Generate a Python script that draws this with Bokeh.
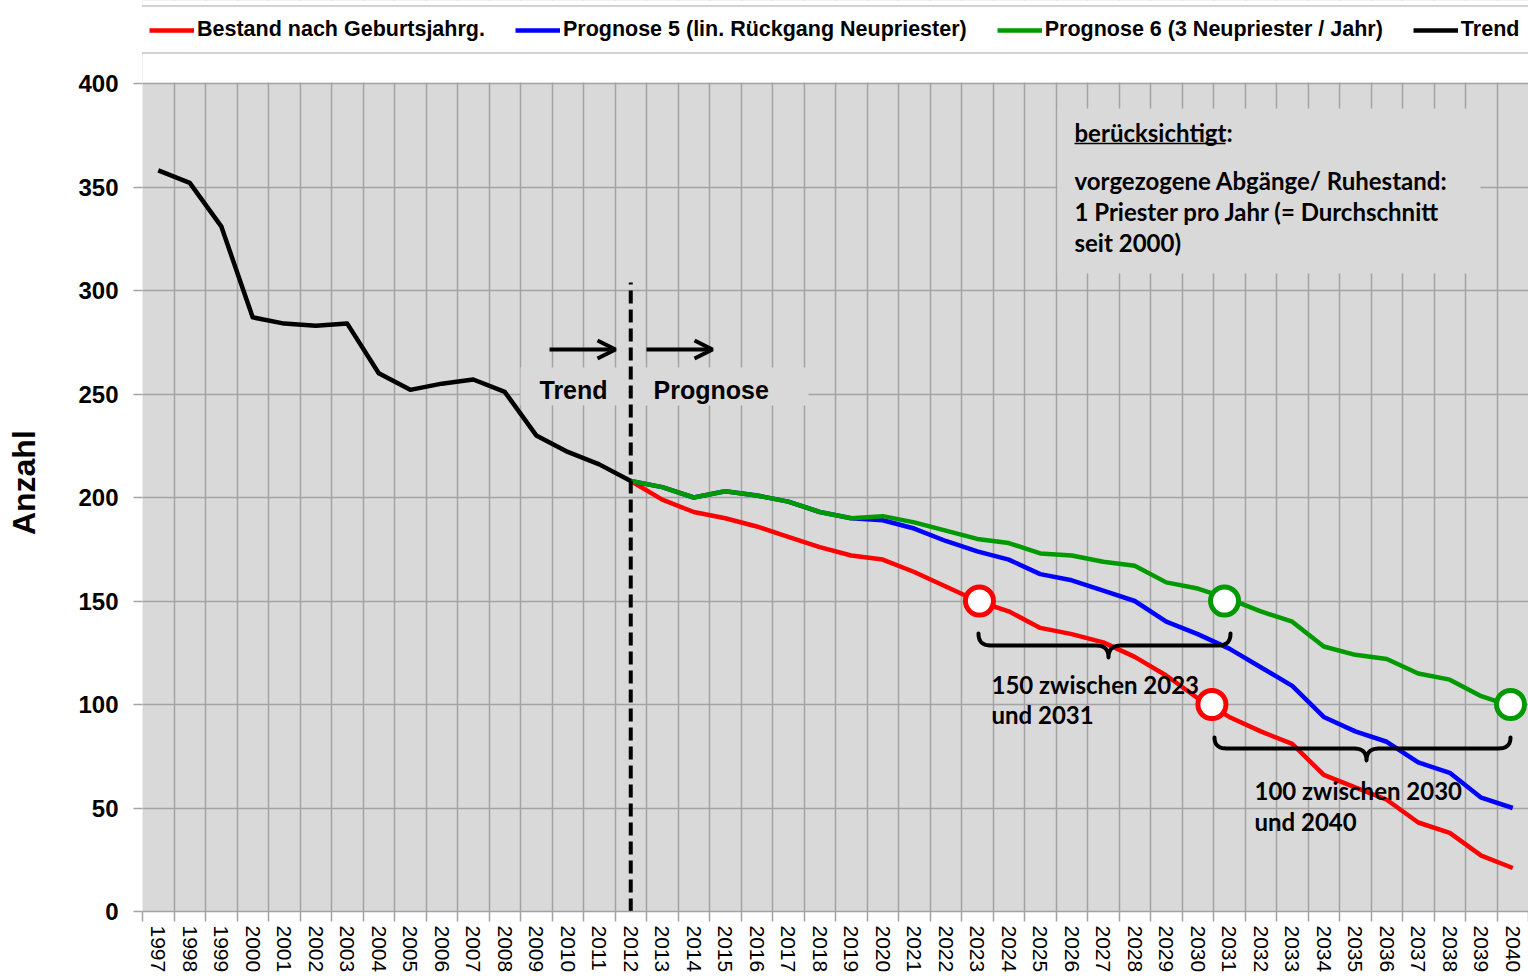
import numpy as np
from bokeh.plotting import figure
from bokeh.models import FixedTicker, Legend, LegendItem, Label, Arrow, OpenHead
from bokeh.embed import file_html
from bokeh.resources import INLINE

# ---------------- data ----------------
years_all = list(range(1997, 2041))
trend_years = list(range(1997, 2013))
trend_values = [358, 352, 331, 287, 284, 283, 284, 260, 252, 255, 257, 251, 230, 222, 216, 208]

prog_years = list(range(2012, 2041))
bestand_values = [208, 199, 193, 190, 186, 181, 176, 172, 170, 164, 157, 150, 145, 137, 134,
                  130, 123, 114, 103, 94, 87, 81, 66, 60, 54, 43, 38, 27, 21]
prognose5_values = [208, 205, 200, 203, 201, 198, 193, 190, 189, 185, 179, 174, 170, 163, 160,
                    155, 150, 140, 134, 127, 118, 109, 94, 87, 82, 72, 67, 55, 50]
prognose6_values = [208, 205, 200, 203, 201, 198, 193, 190, 191, 188, 184, 180, 178, 173, 172,
                    169, 167, 159, 156, 151, 145, 140, 128, 124, 122, 115, 112, 104, 99]

y_ticks = [0, 50, 100, 150, 200, 250, 300, 350, 400]
legend_labels = ["Bestand nach Geburtsjahrg.", "Prognose 5 (lin. Rückgang Neupriester)",
                 "Prognose 6 (3 Neupriester / Jahr)", "Trend"]

# marked crossings (year position, value)
mark_x = [2023.07, 2030.85, 2030.45, 2039.93]
mark_y = [150, 150, 100, 100]
mark_colors = ["#ff0000", "#009900", "#ff0000", "#009900"]

# ---------------- layout helpers ----------------
W, H = 1528, 975
FRAME_LEFT = 142          # page px of the left plot edge
PLOT_TOP, PLOT_BOTTOM = 83, 911   # page px of value 400 and value 0
FW = 1386
X0, X1 = 1996.5, 2040.5
Y_MAX = 400
PX_PER_UNIT = (PLOT_BOTTOM - PLOT_TOP) / Y_MAX


def px_x(px):
    return X0 + (px - FRAME_LEFT) / FW * (X1 - X0)


def px_y(py):
    return (PLOT_BOTTOM - py) / PX_PER_UNIT


Y_TOP = px_y(0)   # frame reaches the top of the figure (legend lives inside it)

GRID = "#a3a3a3"
BG = "#d9d9d9"
RED, BLUE, GREEN = "#ff0000", "#0000ff", "#009900"

p = figure(width=W, height=H, x_range=(X0, X1), y_range=(0, Y_TOP),
           output_backend="svg", toolbar_location=None,
           min_border_left=FRAME_LEFT, min_border_top=0, min_border_right=0,
           min_border_bottom=0,
           background_fill_color=BG, border_fill_color="white", outline_line_color=None)

boundaries = [y - 0.5 for y in years_all] + [years_all[-1] + 0.5]

# x axis
p.xaxis.ticker = FixedTicker(ticks=years_all, minor_ticks=boundaries)
p.xaxis.major_tick_out = 0
p.xaxis.major_tick_in = 0
p.xaxis.major_tick_line_color = None
p.xaxis.minor_tick_out = 10
p.xaxis.minor_tick_in = 0
p.xaxis.minor_tick_line_color = GRID
p.xaxis.minor_tick_line_width = 1.5
p.xaxis.axis_line_color = GRID
p.xaxis.axis_line_width = 1.5
p.xaxis.major_label_orientation = "vertical"
p.xaxis.major_label_text_font = "Liberation Sans"
p.xaxis.major_label_text_font_size = "21px"
p.xaxis.major_label_text_color = "black"
p.xaxis.major_label_standoff = 4

# y axis (only over the 0..400 plot area)
p.yaxis.ticker = FixedTicker(ticks=y_ticks)
p.yaxis.bounds = (0, 400)
p.yaxis.major_tick_out = 9
p.yaxis.major_tick_in = 0
p.yaxis.minor_tick_line_color = None
p.yaxis.major_tick_line_color = GRID
p.yaxis.major_tick_line_width = 1.5
p.yaxis.axis_line_color = None
p.yaxis.major_label_text_font = "Liberation Sans"
p.yaxis.major_label_text_font_style = "bold"
p.yaxis.major_label_text_font_size = "24px"
p.yaxis.major_label_text_color = "black"
p.yaxis.major_label_standoff = 15
# trailing no-break spaces move the centred word down to the middle of the 0..400 area
p.yaxis.axis_label = "Anzahl" + "\u00a0" * 6
p.yaxis.axis_label_text_font = "Liberation Sans"
p.yaxis.axis_label_text_font_style = "bold"
p.yaxis.axis_label_text_font_size = "32px"
p.yaxis.axis_label_text_color = "black"
p.yaxis.axis_label_standoff = 33

# grids
p.xgrid.ticker = FixedTicker(ticks=boundaries)
p.ygrid.ticker = FixedTicker(ticks=y_ticks)
for g in (p.xgrid, p.ygrid):
    g.grid_line_color = GRID
    g.grid_line_width = 1.5

# white area above the plot (legend zone)
p.quad(left=[X0], right=[X1], bottom=[Y_MAX + 0.45], top=[Y_TOP], fill_color="white",
       line_color=None)

# background boxes behind annotation texts (hide grid)
p.quad(left=[px_x(1057)], right=[px_x(1480)], top=[px_y(108)], bottom=[px_y(273)],
       fill_color=BG, line_color=None)
p.quad(left=[px_x(520)], right=[px_x(808)], top=[px_y(367)], bottom=[px_y(405)],
       fill_color=BG, line_color=None)

# series
r_red = p.line(prog_years, bestand_values, line_color=RED, line_width=4.5, line_join="round")
r_blue = p.line(prog_years, prognose5_values, line_color=BLUE, line_width=4.5, line_join="round")
r_green = p.line(prog_years, prognose6_values, line_color=GREEN, line_width=4.5, line_join="round")
r_black = p.line(trend_years, trend_values, line_color="black", line_width=4.5, line_join="round")

# dashed separator at 2012
p.segment(x0=[2012], y0=[0], x1=[2012], y1=[px_y(282)], line_color="black",
          line_width=4, line_dash="13 6")

# arrows
for xs, xe in ((549, 615), (646, 712)):
    p.add_layout(Arrow(x_start=px_x(xs), y_start=px_y(349), x_end=px_x(xe), y_end=px_y(349),
                       line_width=4, line_color="black",
                       end=OpenHead(size=18, line_width=4, line_color="black")))


def bez(p0, p1, p2, n=10):
    t = np.linspace(0, 1, n)
    xs = (1 - t) ** 2 * p0[0] + 2 * (1 - t) * t * p1[0] + t ** 2 * p2[0]
    ys = (1 - t) ** 2 * p0[1] + 2 * (1 - t) * t * p1[1] + t ** 2 * p2[1]
    return list(xs), list(ys)


def brace(x0p, x1p, xmp, ytopp, ylinep, ytipp, rp=12):
    x0, x1, xm = px_x(x0p), px_x(x1p), px_x(xmp)
    r = rp / FW * (X1 - X0)
    yt, yl, yp = px_y(ytopp), px_y(ylinep), px_y(ytipp)
    X, Y = [], []
    for seg in (((x0, yt), (x0, yl), (x0 + r, yl)),
                ((xm - r, yl), (xm, yl), (xm, yp)),
                ((xm, yp), (xm, yl), (xm + r, yl)),
                ((x1 - r, yl), (x1, yl), (x1, yt))):
        a, b = bez(*seg)
        X += a
        Y += b
    p.line(X, Y, line_color="black", line_width=4, line_join="round", line_cap="round")


brace(978, 1230, 1108, 633, 645, 657)
brace(1214, 1510, 1366, 737, 748, 760)

# marker circles
p.scatter(x=mark_x, y=mark_y, size=28, fill_color="white", line_color=mark_colors, line_width=5)


# texts (y = visual centre of the line)
def lab(text, xp, yp, font="Lato", size="24px", style="bold"):
    p.add_layout(Label(x=px_x(xp), y=px_y(yp), text=text, text_font=font,
                       text_font_size=size, text_font_style=style, text_color="black",
                       text_align="left", text_baseline="middle"))


lab("Trend", 539, 389, font="Liberation Sans", size="25px")
lab("Prognose", 653, 389, font="Liberation Sans", size="25px")

lab("berücksichtigt:", 1074, 132)
p.segment(x0=[px_x(1074)], y0=[px_y(143)], x1=[px_x(1225)], y1=[px_y(143)],
          line_color="black", line_width=1.5)
lab("vorgezogene Abgänge/ Ruhestand:", 1074, 180)
lab("1 Priester pro Jahr (= Durchschnitt", 1074, 211)
lab("seit 2000)", 1074, 242)

lab("150 zwischen 2023", 991, 684)
lab("und 2031", 991, 714)
lab("100 zwischen 2030", 1254, 790)
lab("und 2040", 1254, 821)

# legend (inside the frame, in the white zone above the plot)
legend = Legend(items=[LegendItem(label=legend_labels[0], renderers=[r_red]),
                       LegendItem(label=legend_labels[1], renderers=[r_blue]),
                       LegendItem(label=legend_labels[2], renderers=[r_green]),
                       LegendItem(label=legend_labels[3], renderers=[r_black])],
                orientation="horizontal", location=(-5, PLOT_BOTTOM - 54), margin=0,
                padding=10, spacing=30, glyph_width=45, glyph_height=20,
                label_height=20, label_standoff=3,
                label_text_font="Liberation Sans", label_text_font_style="bold",
                label_text_font_size="21.5px", label_text_color="black",
                border_line_color="#a6a6a6", border_line_width=2,
                background_fill_color="white", background_fill_alpha=1)
p.add_layout(legend)

open("out.html", "w").write(file_html(p, INLINE))
